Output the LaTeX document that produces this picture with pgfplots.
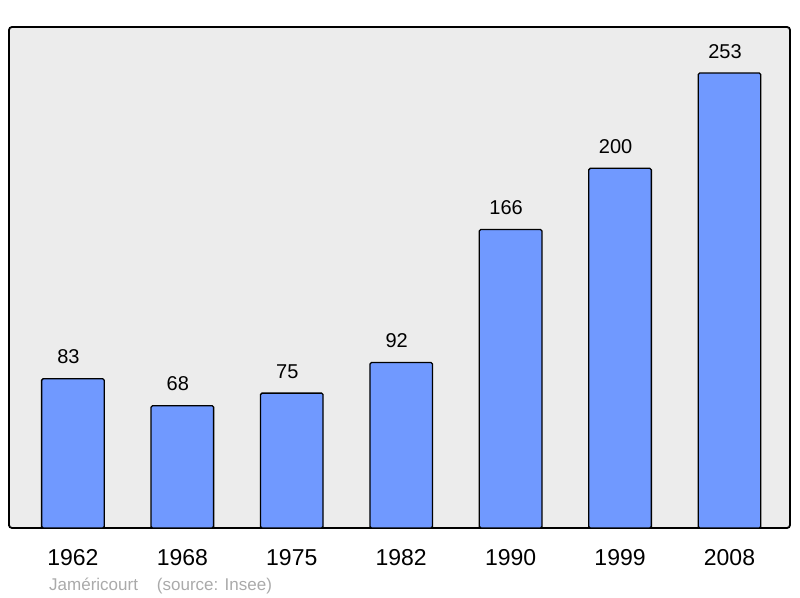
\documentclass[border=0pt]{standalone}
\usepackage{pgfplots}
\pgfplotsset{compat=1.18}
\usepackage{fontspec}
\setmainfont{Liberation Sans}
\definecolor{barblue}{RGB}{112,153,255}
\definecolor{panel}{RGB}{236,236,236}
\definecolor{srcgray}{RGB}{170,170,170}
\begin{document}
\begin{tikzpicture}[x=1bp,y=1bp]
\begin{axis}[
    name=ax,
    at={(0,0)}, anchor=south west,
    scale only axis,
    width=781bp, height=501bp,
    xmin=-0.584, xmax=6.553,
    ymin=0, ymax=278.6,
    axis background/.style={fill=panel},
    axis line style={line width=1.8bp, rounded corners=3bp},
    xtick={0,...,6},
    xticklabels={1962,1968,1975,1982,1990,1999,2008},
    major tick length=0pt,
    ytick=\empty,
    /pgf/number format/assume math mode=true,
    xticklabel style={anchor=base, inner sep=0pt, yshift=-37bp,
        font=\fontsize{23bp}{26bp}\selectfont},
    nodes near coords,
    every node near coord/.append style={anchor=base, inner sep=0pt,
        yshift=15bp, xshift=-4.5bp,
        font=\fontsize{20bp}{24bp}\selectfont, text=black},
]
\addplot[ybar, bar width=0.572, fill=barblue, draw=black, line width=1.3bp,
    rounded corners=1.5bp] coordinates {
    (0,83) (1,68) (2,75) (3,92) (4,166) (5,200) (6,253)
};
\end{axis}
\node[anchor=base west, inner sep=0pt, text=srcgray,
    font=\fontsize{17bp}{20bp}\selectfont] at (40bp,-62.5bp)
    {Jaméricourt\hspace{19bp}(source: Insee)};
\useasboundingbox (-9bp,-70bp) rectangle (791bp,528bp);
\end{tikzpicture}
\end{document}
